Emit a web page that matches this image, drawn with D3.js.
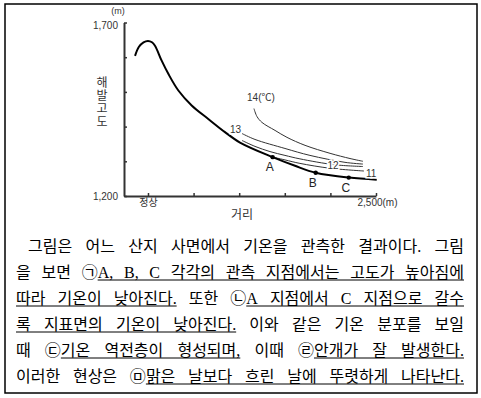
<!DOCTYPE html>
<html>
<head>
<meta charset="utf-8">
<script src="https://cdn.jsdelivr.net/npm/d3@7"></script>
<style>
body { margin: 0; background: #fff; }
</style>
</head>
<body>
<div id="chart"></div>
<script>
// ground profile: distance from summit (m) / altitude (m)
var groundDist = [-142, -99, -49, 0, 44, 77, 150, 223, 333, 479, 661, 844, 1009, 1367, 1612, 1839, 2201, 2508];
var groundAlt  = [1604, 1630, 1643, 1647, 1643, 1633, 1590, 1552, 1504, 1461, 1422, 1384, 1354, 1312, 1287, 1267, 1253, 1247];

// isotherms
var iso14Dist = [1162, 1195, 1250, 1393, 1524, 1722, 1996, 2215, 2357];
var iso14Alt  = [1452, 1429, 1412, 1389, 1369, 1346, 1323, 1308, 1300];
var iso13Dist = [1031, 1173, 1502, 1776, 2160, 2357];
var iso13Alt  = [1380, 1363, 1337, 1317, 1297, 1292];
var iso12Dist = [1031, 1173, 1338, 1502, 1666, 2050, 2357];
var iso12Alt  = [1360, 1343, 1328, 1317, 1307, 1290, 1285];
var iso11Dist = [1338, 1502, 1666, 1996, 2368];
var iso11Alt  = [1314, 1304, 1294, 1280, 1272];

// observation points
var pointNames = ["A", "B", "C"];
var pointDist  = [1367, 1839, 2201];
var pointAlt   = [1312, 1267, 1253];

// ticks
var yTicks = [1200, 1300, 1400, 1500, 1600, 1700];
var yTickLabels = {1200: "1,200", 1700: "1,700"};
var xTicks = [0, 500, 1000, 1500, 2000, 2500];
var xTickLabels = {0: "정상", 2500: "2,500(m)"};

// paragraph, [ ] marks underlined parts
var textLines = [
  "그림은 어느 산지 사면에서 기온을 관측한 결과이다. 그림",
  "을 보면 ㉠[A, B, C 각각의 관측 지점에서는 고도가 높아짐에]",
  "[따라 기온이 낮아진다.] 또한 ㉡[A 지점에서 C 지점으로 갈수]",
  "[록 지표면의 기온이 낮아진다.] 이와 같은 기온 분포를 보일",
  "때 ㉢[기온 역전층이 형성되며,] 이때 ㉣[안개가 잘 발생한다.]",
  "이러한 현상은 ㉤[맑은 날보다 흐린 날에 뚜렷하게 나타난다.]"
];

var W = 481, H = 398;
var svg = d3.select("#chart").append("svg")
  .attr("width", W).attr("height", H);

svg.append("rect")
  .attr("x", 5).attr("y", 4).attr("width", 472).attr("height", 389)
  .attr("fill", "none").attr("stroke", "#000").attr("stroke-width", 1.5);

var x = d3.scaleLinear().domain([-263, 2500]).range([124, 376]);
var y = d3.scaleLinear().domain([1200, 1700]).range([196, 22.5]);

var chartFont = "'Liberation Sans', 'Noto Sans CJK KR', sans-serif";

// y axis
var yAxis = svg.append("g")
  .attr("transform", "translate(" + x(-263) + ",0)")
  .call(d3.axisLeft(y).tickValues(yTicks).tickSizeInner(-3).tickSizeOuter(0)
    .tickPadding(6).tickFormat(d => yTickLabels[d] || ""));
yAxis.select(".domain").attr("stroke", "#333").attr("stroke-width", 2);
yAxis.selectAll(".tick line").attr("stroke", "#333").attr("stroke-width", 1.5);
yAxis.selectAll(".tick text").attr("fill", "#333")
  .style("font-family", chartFont).style("font-size", "10px");
yAxis.selectAll(".tick text").filter(d => d == 1700).attr("dy", "0.55em");

// x axis
var xAxis = svg.append("g")
  .attr("transform", "translate(0," + y(1200) + ")")
  .call(d3.axisBottom(x).tickValues(xTicks).tickSizeInner(-3).tickSizeOuter(0)
    .tickPadding(3).tickFormat(d => xTickLabels[d] || ""));
xAxis.select(".domain").attr("stroke", "#333").attr("stroke-width", 2);
xAxis.selectAll(".tick line").attr("stroke", "#333").attr("stroke-width", 1.5);
xAxis.selectAll(".tick text").attr("fill", "#333")
  .style("font-family", chartFont).style("font-size", "10px");
xAxis.selectAll(".tick text").filter(d => d == 2500)
  .attr("text-anchor", "start").attr("x", -19);

// axis titles
svg.append("text").attr("x", 118).attr("y", 14).attr("text-anchor", "middle")
  .attr("fill", "#333").style("font-family", chartFont).style("font-size", "9px")
  .text("(m)");
svg.append("text").attr("x", 242).attr("y", 219).attr("text-anchor", "middle")
  .attr("fill", "#333").style("font-family", chartFont).style("font-size", "12px")
  .text("거리");
svg.append("g").selectAll("text")
  .data(["해", "발", "고", "도"])
  .enter().append("text")
    .attr("x", 102).attr("y", (d, i) => 87 + i * 13)
    .attr("text-anchor", "middle").attr("fill", "#333")
    .style("font-family", chartFont).style("font-size", "12px")
    .text(d => d);

var line = d3.line()
  .x(d => x(d[0])).y(d => y(d[1]))
  .curve(d3.curveCatmullRom.alpha(0.5));

var isotherms = [
  {name: "14", pts: d3.zip(iso14Dist, iso14Alt)},
  {name: "13", pts: d3.zip(iso13Dist, iso13Alt)},
  {name: "12", pts: d3.zip(iso12Dist, iso12Alt)},
  {name: "11", pts: d3.zip(iso11Dist, iso11Alt)}
];

svg.append("g").selectAll("path")
  .data(isotherms)
  .enter().append("path")
    .attr("d", d => line(d.pts))
    .attr("fill", "none").attr("stroke", "#333").attr("stroke-width", 1);

// ground
svg.append("path")
  .attr("d", line(d3.zip(groundDist, groundAlt)))
  .attr("fill", "none").attr("stroke", "#000").attr("stroke-width", 2);

// isotherm labels
function isoLabel(pt, dx, dy, anchor, txt) {
  svg.append("text")
    .attr("x", x(pt[0]) + dx).attr("y", y(pt[1]) + dy)
    .attr("text-anchor", anchor).attr("fill", "#333")
    .attr("stroke", "#fff").attr("stroke-width", 3).attr("paint-order", "stroke")
    .style("font-family", chartFont).style("font-size", "10px")
    .text(txt);
}
isoLabel(isotherms[0].pts[0], 7, -7.5, "middle", "14(℃)");
isoLabel(isotherms[1].pts[0], -1, -0.5, "end", "13");
isoLabel(isotherms[2].pts[5], -2, 4.5, "middle", "12");
isoLabel(isotherms[3].pts[4], 2, 5.5, "start", "11");

// observation points
var pts = d3.zip(pointNames, pointDist, pointAlt);
svg.append("g").selectAll("circle")
  .data(pts)
  .enter().append("circle")
    .attr("cx", d => x(d[1])).attr("cy", d => y(d[2]))
    .attr("r", 2.2).attr("fill", "#000");
svg.append("g").selectAll("text")
  .data(pts)
  .enter().append("text")
    .attr("x", d => x(d[1]) - 3).attr("y", d => y(d[2]) + 14)
    .attr("text-anchor", "middle").attr("fill", "#222")
    .style("font-family", chartFont).style("font-size", "12px")
    .text(d => d[0]);

// paragraph, justified line by line
var para = svg.append("g")
  .style("font-family", "'Liberation Serif', 'Noto Sans CJK KR', serif")
  .style("font-size", "16px").attr("fill", "#000");

textLines.forEach(function(str, li) {
  // split into words made of pieces {t, u}
  var words = [], cur = [], piece = "", u = false;
  function flushPiece() { if (piece) { cur.push({t: piece, u: u}); piece = ""; } }
  for (var ch of str) {
    if (ch === "[") { flushPiece(); u = true; }
    else if (ch === "]") { flushPiece(); u = false; }
    else if (ch === " ") { flushPiece(); if (cur.length) words.push(cur); cur = []; }
    else piece += ch;
  }
  flushPiece(); if (cur.length) words.push(cur);

  var x0 = li === 0 ? 28 : 16, x1 = 464;
  var base = 252 + li * 26;
  var total = 0;
  words.forEach(function(w) {
    w.width = 0;
    w.forEach(function(p) {
      p.node = para.append("text").attr("y", base).text(p.t);
      p.w = p.node.node().getComputedTextLength();
      w.width += p.w;
    });
    total += w.width;
  });
  var gap = words.length > 1 ? (x1 - x0 - total) / (words.length - 1) : 0;
  var cx = x0, segs = [];
  words.forEach(function(w) {
    w.forEach(function(p) {
      p.node.attr("x", cx);
      segs.push({a: cx, b: cx + p.w, u: p.u});
      cx += p.w;
    });
    cx += gap;
  });
  // underline runs, continuous across spaces
  var runs = [], open = null;
  segs.forEach(function(s) {
    if (s.u) {
      if (open) open.b = s.b; else { open = {a: s.a, b: s.b}; runs.push(open); }
    } else open = null;
  });
  para.selectAll(null).data(runs).enter().append("line")
    .attr("x1", d => d.a).attr("x2", d => d.b)
    .attr("y1", base + 2).attr("y2", base + 2)
    .attr("stroke", "#000").attr("stroke-width", 1);
});
</script>
</body>
</html>
